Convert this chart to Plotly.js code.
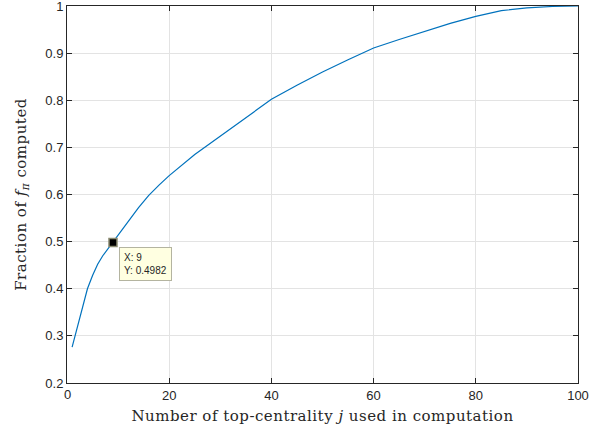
<!DOCTYPE html>
<html>
<head>
<meta charset="utf-8">
<script src="https://cdn.plot.ly/plotly-3.0.1.min.js"></script>
<style>
html,body{margin:0;padding:0;background:#fff;}
#chart{width:608px;height:432px;}
#chart .xtitle, #chart .ytitle{letter-spacing:0.5px;}
</style>
</head>
<body>
<div id="chart"></div>
<script>
var jValues = [1,2,3,4,5,6,7,8,9,10,12,14,16,18,20,25,30,35,40,45,50,55,60,65,70,75,80,85,90,95,100];
var fraction = [0.276,0.318,0.360,0.400,0.428,0.452,0.470,0.485,0.4982,0.513,0.543,0.572,0.598,0.620,0.640,0.685,0.724,0.763,0.802,0.832,0.860,0.886,0.911,0.929,0.946,0.963,0.978,0.990,0.996,0.999,1.0];
var tipX = [9];
var tipY = [0.4982];
var xTicks = [0,20,40,60,80,100];
var yTicks = [0.2,0.3,0.4,0.5,0.6,0.7,0.8,0.9,1];
var yTickText = ['0.2','0.3','0.4','0.5','0.6','0.7','0.8','0.9','1'];

var axisColor = '#262626';
var tickFont = {family: 'Liberation Sans, Arial, sans-serif', size: 13, color: axisColor};
var traces = [
  {x: jValues, y: fraction, type: 'scatter', mode: 'lines',
   line: {color: '#0072BD', width: 1.2}, hoverinfo: 'skip'},
  {x: tipX, y: tipY, type: 'scatter', mode: 'markers',
   marker: {symbol: 'square', size: 8, color: '#000000', line: {color: '#8a8a70', width: 1.5}}, hoverinfo: 'skip'}
];
// the first x tick label (at the corner) is drawn as an annotation so it is not hidden
var xAxisTicks = xTicks.slice(1);
var layout = {
  width: 608, height: 432,
  margin: {l: 67, r: 30, t: 6, b: 49},
  paper_bgcolor: '#ffffff', plot_bgcolor: '#ffffff',
  showlegend: false,
  font: tickFont,
  xaxis: {
    range: [0, 100], tickmode: 'array', tickvals: xAxisTicks, ticktext: xAxisTicks.map(String),
    ticks: 'inside', ticklen: 5, tickcolor: axisColor, ticklabeloverflow: 'allow',
    showline: true, linecolor: axisColor, linewidth: 1, mirror: 'ticks',
    showgrid: true, gridcolor: '#e3e3e3', gridwidth: 1, zeroline: false,
    tickfont: tickFont,
    title: {text: 'Number of top-centrality <i>j</i> used in computation',
            font: {family: 'DejaVu Serif, Liberation Serif, serif', size: 15, color: axisColor}, standoff: 8}
  },
  yaxis: {
    range: [0.2, 1], tickmode: 'array', tickvals: yTicks, ticktext: yTickText,
    ticks: 'inside', ticklen: 5, tickcolor: axisColor, ticklabeloverflow: 'allow',
    showline: true, linecolor: axisColor, linewidth: 1, mirror: 'ticks',
    showgrid: true, gridcolor: '#e3e3e3', gridwidth: 1, zeroline: false,
    tickfont: tickFont,
    title: {text: 'Fraction of <i>f</i><sub><i>π</i></sub> computed',
            font: {family: 'DejaVu Serif, Liberation Serif, serif', size: 15, color: axisColor}, standoff: 15}
  },
  annotations: [{
    x: xTicks[0], y: 0, xref: 'x', yref: 'paper', showarrow: false,
    xanchor: 'center', yanchor: 'top', yshift: -3, borderpad: 0,
    text: String(xTicks[0]), font: tickFont
  }, {
    x: tipX[0], y: tipY[0], xref: 'x', yref: 'y', showarrow: false,
    xanchor: 'left', yanchor: 'top', xshift: 6, yshift: -5, align: 'left',
    text: 'X: ' + tipX[0] + '<br>Y: ' + tipY[0],
    font: {family: 'Liberation Sans, Arial, sans-serif', size: 10, color: '#262626'},
    bgcolor: '#ffffe1', bordercolor: '#b4b4a0', borderwidth: 1, borderpad: 4
  }]
};
Plotly.newPlot('chart', traces, layout, {displayModeBar: false, staticPlot: true});
</script>
</body>
</html>
